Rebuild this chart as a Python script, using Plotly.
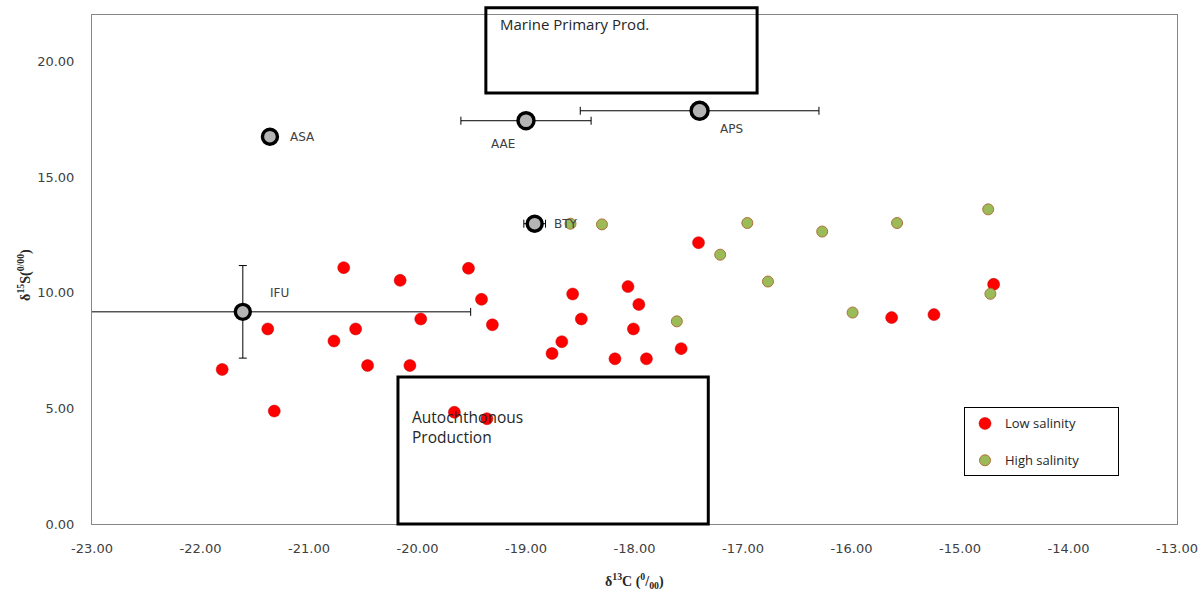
import plotly.graph_objects as go

# ---------------- data ----------------
low_x = [-20.68, -20.16, -21.38, -20.57, -20.77, -20.46, -21.80, -21.32,
         -19.53, -19.41, -19.97, -19.31, -20.07, -18.57, -18.49, -18.67,
         -18.76, -18.06, -17.96, -18.01, -18.18, -17.89, -17.57, -17.41,
         -19.66, -19.36, -14.69, -15.63, -15.24]
low_y = [11.08, 10.53, 8.43, 8.43, 7.91, 6.85, 6.68, 4.88,
         11.05, 9.71, 8.86, 8.61, 6.85, 9.94, 8.86, 7.88,
         7.37, 10.26, 9.49, 8.43, 7.14, 7.14, 7.58, 12.16,
         4.83, 4.55, 10.36, 8.92, 9.05]

high_x = [-18.59, -18.30, -16.96, -17.21, -16.77, -17.61, -16.27, -15.58,
          -14.74, -14.72, -15.99]
high_y = [12.98, 12.95, 13.01, 11.64, 10.48, 8.76, 12.64, 13.01,
          13.60, 9.95, 9.14]

src_names = ["ASA", "AAE", "APS", "BTY", "IFU"]
src_x = [-21.36, -19.00, -17.40, -18.92, -21.61]
src_y = [16.74, 17.43, 17.86, 12.98, 9.17]
src_xerr = [0.0, 0.6, 1.1, 0.1, 2.1]
src_yerr = [0.0, 0.0, 0.0, 0.0, 2.0]

# label offsets (pixels) for source labels
label_dx = [33, -23, 32, 31, 37]
label_dy = [0, -23, -18, 0, 19]
src_size = [15, 16, 17, 15, 15]

# region boxes  (x0, x1, y0, y1) in data units
marine_box = (-19.37, -16.87, 18.63, 22.31)
auto_box = (-20.18, -17.32, 0.0, 6.35)

x_ticks = [-23, -22, -21, -20, -19, -18, -17, -16, -15, -14, -13]
x_tick_text = ["-23.00", "-22.00", "-21.00", "-20.00", "-19.00", "-18.00",
               "-17.00", "-16.00", "-15.00", "-14.00", "-13.00"]
y_ticks = [0, 5, 10, 15, 20]
y_tick_text = ["0.00", "5.00", "10.00", "15.00", "20.00"]
XMIN, XMAX = -23, -13
YMIN, YMAX = 0, 22

TICK_FONT = dict(family="DejaVu Sans", size=13, color="#404040")

fig = go.Figure()

fig.add_trace(go.Scatter(
    x=low_x, y=low_y, mode="markers",
    name="Low salinity" + "\u00a0" * 11,
    legendgroup="low",
    marker=dict(size=12, color="#FF0000", line=dict(color="#C00000", width=0.5)),
))
fig.add_trace(go.Scatter(
    x=high_x, y=high_y, mode="markers", name="High salinity",
    legendgroup="high",
    marker=dict(size=11, color="#9BBB59", line=dict(color="#B0703A", width=1)),
))

for n, xx, yy, ex, ey, sz in zip(src_names, src_x, src_y, src_xerr, src_yerr, src_size):
    fig.add_trace(go.Scatter(
        x=[xx], y=[yy], mode="markers", showlegend=False, name=n,
        marker=dict(size=sz, color="#B4B4B4", line=dict(color="#000000", width=3.4)),
        error_x=dict(type="data", array=[ex], visible=ex > 0, color="#000000",
                     thickness=1, width=4),
        error_y=dict(type="data", array=[ey], visible=ey > 0, color="#000000",
                     thickness=1, width=4),
    ))

shapes = []
for (x0, x1, y0, y1) in [marine_box, auto_box]:
    shapes.append(dict(type="rect", xref="x", yref="paper",
                       x0=x0, x1=x1, y0=(y0 - YMIN) / (YMAX - YMIN),
                       y1=(y1 - YMIN) / (YMAX - YMIN),
                       line=dict(color="#000000", width=3), fillcolor="rgba(0,0,0,0)"))

annotations = []
for n, xx, yy, dx, dy in zip(src_names, src_x, src_y, label_dx, label_dy):
    annotations.append(dict(x=xx, y=yy, xref="x", yref="y", text=n, showarrow=False,
                            xshift=dx, yshift=dy,
                            font=dict(family="DejaVu Sans", size=12, color="#404040")))

annotations.append(dict(x=marine_box[0] + 0.11, y=21.6, xref="x", yref="y",
                        text="Marine Primary Prod.", showarrow=False, xanchor="left",
                        font=dict(family="Open Sans", size=15, color="#262626")))
annotations.append(dict(x=auto_box[0] + 0.11, y=4.21, xref="x", yref="y",
                        text="Autochthonous<br>Production", showarrow=False,
                        xanchor="left", align="left",
                        font=dict(family="Open Sans", size=15.5, color="#262626")))

annotations.append(dict(x=0.5, y=-0.135, xref="paper", yref="paper",
                        text="<b>δ<sup>13</sup>C (<sup>0</sup>/<sub>00</sub>)</b>",
                        showarrow=False,
                        font=dict(family="Liberation Serif", size=14, color="#262626")))
annotations.append(dict(x=-0.073, y=0.49, xref="paper", yref="paper",
                        text="<b>δ<sup>15</sup>S(<sup>0/00</sup>)</b>", textangle=-90,
                        showarrow=False,
                        font=dict(family="Liberation Serif", size=14, color="#262626")))

fig.update_layout(
    width=1204, height=594,
    margin=dict(l=92, r=27, t=15, b=70, autoexpand=False),
    paper_bgcolor="white", plot_bgcolor="white",
    shapes=shapes, annotations=annotations,
    showlegend=True,
    legend=dict(x=0.8037, y=0.229, xanchor="left", yanchor="top",
                bordercolor="#000000", borderwidth=1, bgcolor="white",
                traceorder="grouped", tracegroupgap=17,
                font=dict(family="Open Sans", size=13, color="#262626"),
                itemwidth=30),
    xaxis=dict(range=[XMIN, XMAX], tickvals=x_ticks, ticktext=x_tick_text,
               showgrid=False, zeroline=False, showline=True, linecolor="#868686",
               linewidth=1, mirror=True, ticks="", tickfont=TICK_FONT,
               ticklabelstandoff=12, automargin=False),
    yaxis=dict(range=[YMIN, YMAX], tickvals=y_ticks, ticktext=y_tick_text,
               showgrid=False, zeroline=False, showline=True, linecolor="#868686",
               linewidth=1, mirror=True, ticks="", tickfont=TICK_FONT,
               ticklabelstandoff=14, automargin=False),
)

fig.write_html("out.html", config={"displayModeBar": False},
               post_script="document.body.style.margin='0px';"
                           "document.body.style.overflow='hidden';")
